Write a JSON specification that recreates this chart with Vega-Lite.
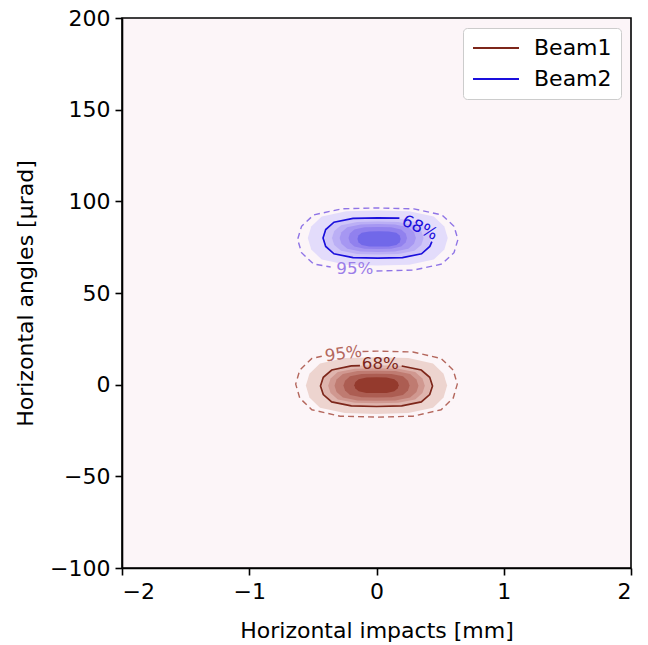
{
  "$schema": "https://vega.github.io/schema/vega-lite/v6.json",
  "width": 509,
  "height": 550,
  "autosize": {"type": "none"},
  "padding": {"left": 122, "top": 18, "right": 17, "bottom": 77},
  "background": "white",
  "config": {
    "font": "DejaVu Sans",
    "view": {"fill": "#fcf5f8", "stroke": "black", "strokeWidth": 1.6},
    "axis": {
      "grid": false,
      "domainColor": "black",
      "domainWidth": 1.6,
      "tickColor": "black",
      "tickWidth": 1.6,
      "tickSize": 7,
      "labelColor": "black",
      "labelFontSize": 22,
      "labelFont": "DejaVu Sans",
      "titleColor": "black",
      "titleFontSize": 22,
      "titleFont": "DejaVu Sans",
      "titleFontWeight": "normal"
    },
    "legend": {
      "orient": "top-right",
      "offset": 10,
      "fillColor": "white",
      "strokeColor": "#cccccc",
      "cornerRadius": 4,
      "padding": 9,
      "labelFontSize": 22,
      "labelFont": "DejaVu Sans",
      "labelColor": "black",
      "labelOffset": 27,
      "rowPadding": 9,
      "symbolType": "M-2.3,0H2.3",
      "symbolSize": 400,
      "symbolOffset": 13,
      "symbolStrokeWidth": 2
    }
  },
  "datasets": {
    "fills": [
      {"level": "B1-1", "i": 0, "x": 0.555, "y": -0.5},
      {"level": "B1-1", "i": 1, "x": 0.527, "y": 6.0},
      {"level": "B1-1", "i": 2, "x": 0.444, "y": 11.6},
      {"level": "B1-1", "i": 3, "x": 0.25, "y": 14.5},
      {"level": "B1-1", "i": 4, "x": 0, "y": 15.0},
      {"level": "B1-1", "i": 5, "x": -0.25, "y": 14.5},
      {"level": "B1-1", "i": 6, "x": -0.444, "y": 11.6},
      {"level": "B1-1", "i": 7, "x": -0.527, "y": 6.0},
      {"level": "B1-1", "i": 8, "x": -0.555, "y": -0.5},
      {"level": "B1-1", "i": 9, "x": -0.527, "y": -7.0},
      {"level": "B1-1", "i": 10, "x": -0.444, "y": -12.6},
      {"level": "B1-1", "i": 11, "x": -0.25, "y": -15.5},
      {"level": "B1-1", "i": 12, "x": 0, "y": -16.0},
      {"level": "B1-1", "i": 13, "x": 0.25, "y": -15.5},
      {"level": "B1-1", "i": 14, "x": 0.444, "y": -12.6},
      {"level": "B1-1", "i": 15, "x": 0.527, "y": -7.0},

      {"level": "B1-2", "i": 0, "x": 0.43, "y": -0.6},
      {"level": "B1-2", "i": 1, "x": 0.409, "y": 4.1},
      {"level": "B1-2", "i": 2, "x": 0.344, "y": 8.1},
      {"level": "B1-2", "i": 3, "x": 0.194, "y": 10.3},
      {"level": "B1-2", "i": 4, "x": 0, "y": 10.6},
      {"level": "B1-2", "i": 5, "x": -0.194, "y": 10.3},
      {"level": "B1-2", "i": 6, "x": -0.344, "y": 8.1},
      {"level": "B1-2", "i": 7, "x": -0.409, "y": 4.1},
      {"level": "B1-2", "i": 8, "x": -0.43, "y": -0.6},
      {"level": "B1-2", "i": 9, "x": -0.409, "y": -5.3},
      {"level": "B1-2", "i": 10, "x": -0.344, "y": -9.3},
      {"level": "B1-2", "i": 11, "x": -0.194, "y": -11.5},
      {"level": "B1-2", "i": 12, "x": 0, "y": -11.8},
      {"level": "B1-2", "i": 13, "x": 0.194, "y": -11.5},
      {"level": "B1-2", "i": 14, "x": 0.344, "y": -9.3},
      {"level": "B1-2", "i": 15, "x": 0.409, "y": -5.3},

      {"level": "B1-3", "i": 0, "x": 0.38, "y": -0.6},
      {"level": "B1-3", "i": 1, "x": 0.361, "y": 3.4},
      {"level": "B1-3", "i": 2, "x": 0.304, "y": 6.9},
      {"level": "B1-3", "i": 3, "x": 0.171, "y": 8.7},
      {"level": "B1-3", "i": 4, "x": 0, "y": 9.0},
      {"level": "B1-3", "i": 5, "x": -0.171, "y": 8.7},
      {"level": "B1-3", "i": 6, "x": -0.304, "y": 6.9},
      {"level": "B1-3", "i": 7, "x": -0.361, "y": 3.4},
      {"level": "B1-3", "i": 8, "x": -0.38, "y": -0.6},
      {"level": "B1-3", "i": 9, "x": -0.361, "y": -4.6},
      {"level": "B1-3", "i": 10, "x": -0.304, "y": -8.1},
      {"level": "B1-3", "i": 11, "x": -0.171, "y": -9.9},
      {"level": "B1-3", "i": 12, "x": 0, "y": -10.2},
      {"level": "B1-3", "i": 13, "x": 0.171, "y": -9.9},
      {"level": "B1-3", "i": 14, "x": 0.304, "y": -8.1},
      {"level": "B1-3", "i": 15, "x": 0.361, "y": -4.6},

      {"level": "B1-4", "i": 0, "x": 0.33, "y": -0.6},
      {"level": "B1-4", "i": 1, "x": 0.314, "y": 2.8},
      {"level": "B1-4", "i": 2, "x": 0.264, "y": 5.8},
      {"level": "B1-4", "i": 3, "x": 0.149, "y": 7.4},
      {"level": "B1-4", "i": 4, "x": 0, "y": 7.6},
      {"level": "B1-4", "i": 5, "x": -0.149, "y": 7.4},
      {"level": "B1-4", "i": 6, "x": -0.264, "y": 5.8},
      {"level": "B1-4", "i": 7, "x": -0.314, "y": 2.8},
      {"level": "B1-4", "i": 8, "x": -0.33, "y": -0.6},
      {"level": "B1-4", "i": 9, "x": -0.314, "y": -4.0},
      {"level": "B1-4", "i": 10, "x": -0.264, "y": -7.0},
      {"level": "B1-4", "i": 11, "x": -0.149, "y": -8.6},
      {"level": "B1-4", "i": 12, "x": 0, "y": -8.8},
      {"level": "B1-4", "i": 13, "x": 0.149, "y": -8.6},
      {"level": "B1-4", "i": 14, "x": 0.264, "y": -7.0},
      {"level": "B1-4", "i": 15, "x": 0.314, "y": -4.0},

      {"level": "B1-5", "i": 0, "x": 0.26, "y": -0.5},
      {"level": "B1-5", "i": 1, "x": 0.247, "y": 2.2},
      {"level": "B1-5", "i": 2, "x": 0.208, "y": 4.6},
      {"level": "B1-5", "i": 3, "x": 0.117, "y": 5.8},
      {"level": "B1-5", "i": 4, "x": 0, "y": 6.0},
      {"level": "B1-5", "i": 5, "x": -0.117, "y": 5.8},
      {"level": "B1-5", "i": 6, "x": -0.208, "y": 4.6},
      {"level": "B1-5", "i": 7, "x": -0.247, "y": 2.2},
      {"level": "B1-5", "i": 8, "x": -0.26, "y": -0.5},
      {"level": "B1-5", "i": 9, "x": -0.247, "y": -3.2},
      {"level": "B1-5", "i": 10, "x": -0.208, "y": -5.6},
      {"level": "B1-5", "i": 11, "x": -0.117, "y": -6.8},
      {"level": "B1-5", "i": 12, "x": 0, "y": -7.0},
      {"level": "B1-5", "i": 13, "x": 0.117, "y": -6.8},
      {"level": "B1-5", "i": 14, "x": 0.208, "y": -5.6},
      {"level": "B1-5", "i": 15, "x": 0.247, "y": -3.2},

      {"level": "B1-6", "i": 0, "x": 0.175, "y": -0.3},
      {"level": "B1-6", "i": 1, "x": 0.166, "y": 1.5},
      {"level": "B1-6", "i": 2, "x": 0.14, "y": 3.0},
      {"level": "B1-6", "i": 3, "x": 0.079, "y": 3.9},
      {"level": "B1-6", "i": 4, "x": 0, "y": 4.0},
      {"level": "B1-6", "i": 5, "x": -0.079, "y": 3.9},
      {"level": "B1-6", "i": 6, "x": -0.14, "y": 3.0},
      {"level": "B1-6", "i": 7, "x": -0.166, "y": 1.5},
      {"level": "B1-6", "i": 8, "x": -0.175, "y": -0.3},
      {"level": "B1-6", "i": 9, "x": -0.166, "y": -2.1},
      {"level": "B1-6", "i": 10, "x": -0.14, "y": -3.6},
      {"level": "B1-6", "i": 11, "x": -0.079, "y": -4.5},
      {"level": "B1-6", "i": 12, "x": 0, "y": -4.6},
      {"level": "B1-6", "i": 13, "x": 0.079, "y": -4.5},
      {"level": "B1-6", "i": 14, "x": 0.14, "y": -3.6},
      {"level": "B1-6", "i": 15, "x": 0.166, "y": -2.1},

      {"level": "B2-1", "i": 0, "x": 0.56, "y": 80},
      {"level": "B2-1", "i": 1, "x": 0.533, "y": 86.3},
      {"level": "B2-1", "i": 2, "x": 0.45, "y": 91.7},
      {"level": "B2-1", "i": 3, "x": 0.258, "y": 94.6},
      {"level": "B2-1", "i": 4, "x": 0.01, "y": 95},
      {"level": "B2-1", "i": 5, "x": -0.238, "y": 94.6},
      {"level": "B2-1", "i": 6, "x": -0.43, "y": 91.7},
      {"level": "B2-1", "i": 7, "x": -0.513, "y": 86.3},
      {"level": "B2-1", "i": 8, "x": -0.54, "y": 80},
      {"level": "B2-1", "i": 9, "x": -0.513, "y": 73.7},
      {"level": "B2-1", "i": 10, "x": -0.43, "y": 68.3},
      {"level": "B2-1", "i": 11, "x": -0.238, "y": 65.4},
      {"level": "B2-1", "i": 12, "x": 0.01, "y": 65},
      {"level": "B2-1", "i": 13, "x": 0.258, "y": 65.4},
      {"level": "B2-1", "i": 14, "x": 0.45, "y": 68.3},
      {"level": "B2-1", "i": 15, "x": 0.533, "y": 73.7},

      {"level": "B2-2", "i": 0, "x": 0.43, "y": 80},
      {"level": "B2-2", "i": 1, "x": 0.409, "y": 84.5},
      {"level": "B2-2", "i": 2, "x": 0.346, "y": 88.3},
      {"level": "B2-2", "i": 3, "x": 0.199, "y": 90.3},
      {"level": "B2-2", "i": 4, "x": 0.01, "y": 90.6},
      {"level": "B2-2", "i": 5, "x": -0.179, "y": 90.3},
      {"level": "B2-2", "i": 6, "x": -0.326, "y": 88.3},
      {"level": "B2-2", "i": 7, "x": -0.389, "y": 84.5},
      {"level": "B2-2", "i": 8, "x": -0.41, "y": 80},
      {"level": "B2-2", "i": 9, "x": -0.389, "y": 75.5},
      {"level": "B2-2", "i": 10, "x": -0.326, "y": 71.7},
      {"level": "B2-2", "i": 11, "x": -0.179, "y": 69.7},
      {"level": "B2-2", "i": 12, "x": 0.01, "y": 69.4},
      {"level": "B2-2", "i": 13, "x": 0.199, "y": 69.7},
      {"level": "B2-2", "i": 14, "x": 0.346, "y": 71.7},
      {"level": "B2-2", "i": 15, "x": 0.409, "y": 75.5},

      {"level": "B2-3", "i": 0, "x": 0.37, "y": 80},
      {"level": "B2-3", "i": 1, "x": 0.352, "y": 83.8},
      {"level": "B2-3", "i": 2, "x": 0.298, "y": 87.0},
      {"level": "B2-3", "i": 3, "x": 0.172, "y": 88.7},
      {"level": "B2-3", "i": 4, "x": 0.01, "y": 89},
      {"level": "B2-3", "i": 5, "x": -0.152, "y": 88.7},
      {"level": "B2-3", "i": 6, "x": -0.278, "y": 87.0},
      {"level": "B2-3", "i": 7, "x": -0.332, "y": 83.8},
      {"level": "B2-3", "i": 8, "x": -0.35, "y": 80},
      {"level": "B2-3", "i": 9, "x": -0.332, "y": 76.2},
      {"level": "B2-3", "i": 10, "x": -0.278, "y": 73.0},
      {"level": "B2-3", "i": 11, "x": -0.152, "y": 71.3},
      {"level": "B2-3", "i": 12, "x": 0.01, "y": 71},
      {"level": "B2-3", "i": 13, "x": 0.172, "y": 71.3},
      {"level": "B2-3", "i": 14, "x": 0.298, "y": 73.0},
      {"level": "B2-3", "i": 15, "x": 0.352, "y": 76.2},

      {"level": "B2-4", "i": 0, "x": 0.31, "y": 80},
      {"level": "B2-4", "i": 1, "x": 0.295, "y": 83.2},
      {"level": "B2-4", "i": 2, "x": 0.25, "y": 85.9},
      {"level": "B2-4", "i": 3, "x": 0.145, "y": 87.4},
      {"level": "B2-4", "i": 4, "x": 0.01, "y": 87.6},
      {"level": "B2-4", "i": 5, "x": -0.125, "y": 87.4},
      {"level": "B2-4", "i": 6, "x": -0.23, "y": 85.9},
      {"level": "B2-4", "i": 7, "x": -0.275, "y": 83.2},
      {"level": "B2-4", "i": 8, "x": -0.29, "y": 80},
      {"level": "B2-4", "i": 9, "x": -0.275, "y": 76.8},
      {"level": "B2-4", "i": 10, "x": -0.23, "y": 74.1},
      {"level": "B2-4", "i": 11, "x": -0.125, "y": 72.6},
      {"level": "B2-4", "i": 12, "x": 0.01, "y": 72.4},
      {"level": "B2-4", "i": 13, "x": 0.145, "y": 72.6},
      {"level": "B2-4", "i": 14, "x": 0.25, "y": 74.1},
      {"level": "B2-4", "i": 15, "x": 0.295, "y": 76.8},

      {"level": "B2-5", "i": 0, "x": 0.24, "y": 80},
      {"level": "B2-5", "i": 1, "x": 0.229, "y": 82.5},
      {"level": "B2-5", "i": 2, "x": 0.194, "y": 84.7},
      {"level": "B2-5", "i": 3, "x": 0.114, "y": 85.8},
      {"level": "B2-5", "i": 4, "x": 0.01, "y": 86},
      {"level": "B2-5", "i": 5, "x": -0.094, "y": 85.8},
      {"level": "B2-5", "i": 6, "x": -0.174, "y": 84.7},
      {"level": "B2-5", "i": 7, "x": -0.209, "y": 82.5},
      {"level": "B2-5", "i": 8, "x": -0.22, "y": 80},
      {"level": "B2-5", "i": 9, "x": -0.209, "y": 77.5},
      {"level": "B2-5", "i": 10, "x": -0.174, "y": 75.3},
      {"level": "B2-5", "i": 11, "x": -0.094, "y": 74.2},
      {"level": "B2-5", "i": 12, "x": 0.01, "y": 74},
      {"level": "B2-5", "i": 13, "x": 0.114, "y": 74.2},
      {"level": "B2-5", "i": 14, "x": 0.194, "y": 75.3},
      {"level": "B2-5", "i": 15, "x": 0.229, "y": 77.5},

      {"level": "B2-6", "i": 0, "x": 0.19, "y": 79.5},
      {"level": "B2-6", "i": 1, "x": 0.182, "y": 81.3},
      {"level": "B2-6", "i": 2, "x": 0.156, "y": 82.8},
      {"level": "B2-6", "i": 3, "x": 0.097, "y": 83.6},
      {"level": "B2-6", "i": 4, "x": 0.02, "y": 83.7},
      {"level": "B2-6", "i": 5, "x": -0.057, "y": 83.6},
      {"level": "B2-6", "i": 6, "x": -0.116, "y": 82.8},
      {"level": "B2-6", "i": 7, "x": -0.142, "y": 81.3},
      {"level": "B2-6", "i": 8, "x": -0.15, "y": 79.5},
      {"level": "B2-6", "i": 9, "x": -0.142, "y": 77.7},
      {"level": "B2-6", "i": 10, "x": -0.116, "y": 76.2},
      {"level": "B2-6", "i": 11, "x": -0.057, "y": 75.4},
      {"level": "B2-6", "i": 12, "x": 0.02, "y": 75.3},
      {"level": "B2-6", "i": 13, "x": 0.097, "y": 75.4},
      {"level": "B2-6", "i": 14, "x": 0.156, "y": 76.2},
      {"level": "B2-6", "i": 15, "x": 0.182, "y": 77.7}
    ],
    "lines": [
      {"beam": "Beam1", "contour": "68", "i": 1, "x": 0.198, "y": 10.2},
      {"beam": "Beam1", "contour": "68", "i": 2, "x": 0.352, "y": 8.0},
      {"beam": "Beam1", "contour": "68", "i": 3, "x": 0.418, "y": 4.0},
      {"beam": "Beam1", "contour": "68", "i": 4, "x": 0.44, "y": -0.7},
      {"beam": "Beam1", "contour": "68", "i": 5, "x": 0.418, "y": -5.4},
      {"beam": "Beam1", "contour": "68", "i": 6, "x": 0.352, "y": -9.4},
      {"beam": "Beam1", "contour": "68", "i": 7, "x": 0.198, "y": -11.6},
      {"beam": "Beam1", "contour": "68", "i": 8, "x": 0, "y": -11.9},
      {"beam": "Beam1", "contour": "68", "i": 9, "x": -0.198, "y": -11.6},
      {"beam": "Beam1", "contour": "68", "i": 10, "x": -0.352, "y": -9.4},
      {"beam": "Beam1", "contour": "68", "i": 11, "x": -0.418, "y": -5.4},
      {"beam": "Beam1", "contour": "68", "i": 12, "x": -0.44, "y": -0.7},
      {"beam": "Beam1", "contour": "68", "i": 13, "x": -0.418, "y": 4.0},
      {"beam": "Beam1", "contour": "68", "i": 14, "x": -0.352, "y": 8.0},
      {"beam": "Beam1", "contour": "68", "i": 15, "x": -0.198, "y": 10.2},
      {"beam": "Beam1", "contour": "68", "i": 16, "x": -0.13, "y": 10.4},

      {"beam": "Beam1", "contour": "95", "i": 1, "x": -0.11, "y": 18.1},
      {"beam": "Beam1", "contour": "95", "i": 2, "x": 0, "y": 18.3},
      {"beam": "Beam1", "contour": "95", "i": 3, "x": 0.286, "y": 17.8},
      {"beam": "Beam1", "contour": "95", "i": 4, "x": 0.508, "y": 14.3},
      {"beam": "Beam1", "contour": "95", "i": 5, "x": 0.603, "y": 7.9},
      {"beam": "Beam1", "contour": "95", "i": 6, "x": 0.635, "y": 0.3},
      {"beam": "Beam1", "contour": "95", "i": 7, "x": 0.603, "y": -7.3},
      {"beam": "Beam1", "contour": "95", "i": 8, "x": 0.508, "y": -13.7},
      {"beam": "Beam1", "contour": "95", "i": 9, "x": 0.286, "y": -17.2},
      {"beam": "Beam1", "contour": "95", "i": 10, "x": 0, "y": -17.7},
      {"beam": "Beam1", "contour": "95", "i": 11, "x": -0.286, "y": -17.2},
      {"beam": "Beam1", "contour": "95", "i": 12, "x": -0.508, "y": -13.7},
      {"beam": "Beam1", "contour": "95", "i": 13, "x": -0.603, "y": -7.3},
      {"beam": "Beam1", "contour": "95", "i": 14, "x": -0.635, "y": 0.3},
      {"beam": "Beam1", "contour": "95", "i": 15, "x": -0.603, "y": 7.9},
      {"beam": "Beam1", "contour": "95", "i": 16, "x": -0.508, "y": 14.3},
      {"beam": "Beam1", "contour": "95", "i": 17, "x": -0.43, "y": 15.5},

      {"beam": "Beam2", "contour": "68", "i": 1, "x": 0.435, "y": 78.0},
      {"beam": "Beam2", "contour": "68", "i": 2, "x": 0.419, "y": 75.4},
      {"beam": "Beam2", "contour": "68", "i": 3, "x": 0.354, "y": 71.4},
      {"beam": "Beam2", "contour": "68", "i": 4, "x": 0.204, "y": 69.3},
      {"beam": "Beam2", "contour": "68", "i": 5, "x": 0.01, "y": 69},
      {"beam": "Beam2", "contour": "68", "i": 6, "x": -0.184, "y": 69.3},
      {"beam": "Beam2", "contour": "68", "i": 7, "x": -0.334, "y": 71.4},
      {"beam": "Beam2", "contour": "68", "i": 8, "x": -0.399, "y": 75.4},
      {"beam": "Beam2", "contour": "68", "i": 9, "x": -0.42, "y": 80},
      {"beam": "Beam2", "contour": "68", "i": 10, "x": -0.399, "y": 84.6},
      {"beam": "Beam2", "contour": "68", "i": 11, "x": -0.334, "y": 88.6},
      {"beam": "Beam2", "contour": "68", "i": 12, "x": -0.184, "y": 90.7},
      {"beam": "Beam2", "contour": "68", "i": 13, "x": 0.01, "y": 91},
      {"beam": "Beam2", "contour": "68", "i": 14, "x": 0.18, "y": 90.8},

      {"beam": "Beam2", "contour": "95", "i": 1, "x": 0.0, "y": 62.0},
      {"beam": "Beam2", "contour": "95", "i": 2, "x": 0.294, "y": 62.5},
      {"beam": "Beam2", "contour": "95", "i": 3, "x": 0.514, "y": 65.8},
      {"beam": "Beam2", "contour": "95", "i": 4, "x": 0.609, "y": 72.0},
      {"beam": "Beam2", "contour": "95", "i": 5, "x": 0.64, "y": 79.2},
      {"beam": "Beam2", "contour": "95", "i": 6, "x": 0.609, "y": 86.4},
      {"beam": "Beam2", "contour": "95", "i": 7, "x": 0.514, "y": 92.6},
      {"beam": "Beam2", "contour": "95", "i": 8, "x": 0.294, "y": 95.9},
      {"beam": "Beam2", "contour": "95", "i": 9, "x": 0.01, "y": 96.4},
      {"beam": "Beam2", "contour": "95", "i": 10, "x": -0.274, "y": 95.9},
      {"beam": "Beam2", "contour": "95", "i": 11, "x": -0.494, "y": 92.6},
      {"beam": "Beam2", "contour": "95", "i": 12, "x": -0.589, "y": 86.4},
      {"beam": "Beam2", "contour": "95", "i": 13, "x": -0.62, "y": 79.2},
      {"beam": "Beam2", "contour": "95", "i": 14, "x": -0.589, "y": 72.0},
      {"beam": "Beam2", "contour": "95", "i": 15, "x": -0.494, "y": 65.8},
      {"beam": "Beam2", "contour": "95", "i": 16, "x": -0.36, "y": 64.2}
    ],
    "labels": [
      {"beam": "Beam1", "contour": "68", "text": "68%", "x": 0.03, "y": 11.3},
      {"beam": "Beam1", "contour": "95", "text": "95%", "x": -0.26, "y": 16.7},
      {"beam": "Beam2", "contour": "68", "text": "68%", "x": 0.34, "y": 85.5},
      {"beam": "Beam2", "contour": "95", "text": "95%", "x": -0.17, "y": 63.1}
    ]
  },
  "encoding": {
    "x": {"field": "x", "type": "quantitative", "scale": {"domain": [-2, 2], "nice": false, "zero": false}, "axis": {"values": [-2, -1, 0, 1, 2], "title": "Horizontal impacts [mm]", "labelPadding": 6, "titlePadding": 18}},
    "y": {"field": "y", "type": "quantitative", "scale": {"domain": [-100, 200], "nice": false, "zero": false}, "axis": {"values": [-100, -50, 0, 50, 100, 150, 200], "title": "Horizontal angles [μrad]", "labelPadding": 5, "titlePadding": 12}}
  },
  "layer": [
    {
      "data": {"name": "fills"},
      "mark": {"type": "line", "interpolate": "linear-closed", "strokeWidth": 0, "strokeOpacity": 0},
      "encoding": {
        "fill": {"field": "level", "type": "nominal", "legend": null,
          "scale": {"domain": ["B1-1", "B1-2", "B1-3", "B1-4", "B1-5", "B1-6", "B2-1", "B2-2", "B2-3", "B2-4", "B2-5", "B2-6"],
                    "range": ["#edd4cf", "#dfb5ae", "#d09890", "#bf7b71", "#ac5d52", "#943a2d", "#e3dcfb", "#cfc5f8", "#bbaff5", "#a697f2", "#9181ee", "#7168e9"]}},
        "detail": {"field": "level", "type": "nominal"},
        "order": {"field": "i", "type": "quantitative"}
      }
    },
    {
      "data": {"name": "lines"},
      "transform": [{"filter": "datum.beam === 'Beam1' && datum.contour === '95'"}],
      "mark": {"type": "line", "color": "#b4675d", "strokeWidth": 1.4, "strokeDash": [6, 4]},
      "encoding": {"order": {"field": "i", "type": "quantitative"}}
    },
    {
      "data": {"name": "lines"},
      "transform": [{"filter": "datum.beam === 'Beam2' && datum.contour === '95'"}],
      "mark": {"type": "line", "color": "#8f74e6", "strokeWidth": 1.4, "strokeDash": [6, 4]},
      "encoding": {"order": {"field": "i", "type": "quantitative"}}
    },
    {
      "data": {"name": "lines"},
      "transform": [{"filter": "datum.contour === '68'"}],
      "mark": {"type": "line", "strokeWidth": 1.7},
      "encoding": {
        "stroke": {"field": "beam", "type": "nominal", "title": null,
          "scale": {"domain": ["Beam1", "Beam2"], "range": ["#7d261a", "#1a0fdc"]}},
        "order": {"field": "i", "type": "quantitative"}
      }
    },
    {
      "data": {"name": "labels"},
      "transform": [{"filter": "datum.beam === 'Beam1' && datum.contour === '68'"}],
      "mark": {"type": "text", "font": "DejaVu Sans", "fontSize": 16.7, "color": "#7d261a", "angle": 0, "baseline": "middle", "align": "center"},
      "encoding": {"text": {"field": "text"}}
    },
    {
      "data": {"name": "labels"},
      "transform": [{"filter": "datum.beam === 'Beam1' && datum.contour === '95'"}],
      "mark": {"type": "text", "font": "DejaVu Sans", "fontSize": 16.7, "color": "#b4675d", "angle": -8, "baseline": "middle", "align": "center"},
      "encoding": {"text": {"field": "text"}}
    },
    {
      "data": {"name": "labels"},
      "transform": [{"filter": "datum.beam === 'Beam2' && datum.contour === '68'"}],
      "mark": {"type": "text", "font": "DejaVu Sans", "fontSize": 16.7, "color": "#1a0fdc", "angle": 25, "baseline": "middle", "align": "center"},
      "encoding": {"text": {"field": "text"}}
    },
    {
      "data": {"name": "labels"},
      "transform": [{"filter": "datum.beam === 'Beam2' && datum.contour === '95'"}],
      "mark": {"type": "text", "font": "DejaVu Sans", "fontSize": 16.7, "color": "#9b7de8", "angle": 0, "baseline": "middle", "align": "center"},
      "encoding": {"text": {"field": "text"}}
    }
  ]
}
